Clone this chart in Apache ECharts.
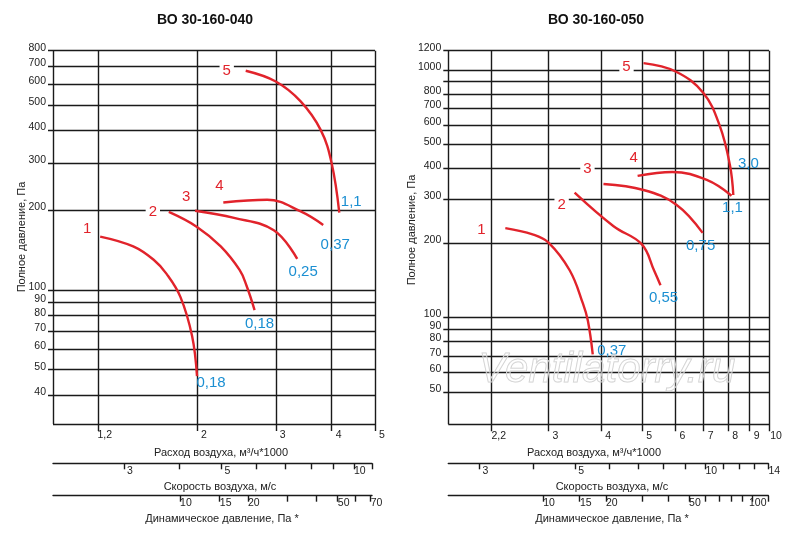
<!DOCTYPE html>
<html><head><meta charset="utf-8">
<script src="https://cdn.jsdelivr.net/npm/echarts@6/dist/echarts.min.js"></script>
<style>html,body{margin:0;background:#fff}#c{width:800px;height:542px}</style>
</head><body><div id="c"></div>
<script>
// ---------- data ----------
const L_X_TICKS = [1.2, 2, 3, 4, 5];
const L_X_LABELS = ['1,2', '2', '3', '4', '5'];
const L_Y_LINES = [800, 700, 600, 500, 400, 300, 200, 100, 90, 80, 70, 60, 50, 40];
const L_Y_LABELS = ['800','700','600','500','400','300','200','100','90','80','70','60','50','40'];
const R_X_TICKS = [2.2, 3, 4, 5, 6, 7, 8, 9, 10];
const R_X_LABELS = ['2,2','3','4','5','6','7','8','9','10'];
const R_Y_LINES = [1200, 1000, 900, 800, 700, 600, 500, 400, 300, 200, 100, 90, 80, 70, 60, 50];
const R_Y_LABELS = ['1200','1000','','800','700','600','500','400','300','200','100','90','80','70','60','50'];

const L_VEL_TICKS = [3, 4, 5, 6, 7, 8, 9, 10, 11];
const L_VEL_LABELS = ['3', '', '5', '', '', '', '', '10', ''];
const L_DYN_TICKS = [5, 10, 15, 20, 30, 40, 50, 60, 70];
const L_DYN_LABELS = ['5', '10', '15', '20', '', '', '50', '', '70'];
const L_DYN_HASTICK = [false, true, true, true, true, true, true, true, true];
const R_VEL_TICKS = [3, 4, 5, 6, 7, 8, 9, 10, 11, 12, 13, 14];
const R_VEL_LABELS = ['3', '', '5', '', '', '', '', '10', '', '', '', '14'];
const R_DYN_TICKS = [5, 10, 15, 20, 30, 40, 50, 60, 70, 80, 90, 100, 120];
const R_DYN_LABELS = ['5', '10', '15', '20', '', '', '50', '', '', '', '', '100', ''];
const R_DYN_HASTICK = [false, true, true, true, true, true, true, true, true, true, true, true, true];

const L_CURVES = [
  [[1.215,159],[1.44,146],[1.6,130],[1.71,115],[1.837,94],[1.95,67],[2.0,47.3]],
  [[1.73,197],[2.0,173],[2.26,146],[2.49,119],[2.58,104],[2.69,84]],
  [[1.98,199],[2.42,187],[2.97,168],[3.35,131]],
  [[2.29,214],[2.87,219],[3.41,198],[3.83,176]],
  [[2.57,672],[3.0,612],[3.41,515],[3.78,402],[4.0,301],[4.16,196]]
];
const L_NAMES = ['1','2','3','4','5'];
const L_POWER = ['0,18','0,18','0,25','0,37','1,1'];
const R_CURVES = [
  [[2.37,230],[2.75,217],[3.0,201],[3.37,155],[3.62,114],[3.72,97],[3.82,71]],
  [[3.46,320],[4.28,234],[4.99,198],[5.34,155],[5.53,135]],
  [[4.05,347],[5.04,328],[6.03,286],[6.96,220]],
  [[4.88,374],[5.9,388],[7.12,360],[8.15,311]],
  [[5.04,1069],[5.99,991],[6.98,811],[7.64,597],[8.08,413],[8.23,313]]
];
const R_NAMES = ['1','2','3','4','5'];
const R_POWER = ['0,37','0,55','0,75','1,1','3,0'];

// ---------- layout / style ----------
const RED = '#e1232b', BLUE = '#1b8fd2', INK = '#1a1a1a';
const FONT = 'Liberation Sans';
const L_START_OFF = [[-13,-8],[-16,0],[-9,-14],[-4,-17],[-19,0]];
const L_END_OFF = [[14,7],[5,14],[6,13],[12,20],[12,-11]];
const R_START_OFF = [[-24,2],[-13,12],[-16,-15],[-4,-18],[-17,4]];
const R_END_OFF = [[19,-3],[3,13],[-2,13],[1,12],[15,-31]];

const panels = [
  {grid:{left:53, top:50.7, width:322, height:373.3}, x:[0.953,5], y:[31.2,800],
   xt:L_X_TICKS, xl:L_X_LABELS, yl:L_Y_LINES, ylab:L_Y_LABELS, curves:L_CURVES,
   names:L_NAMES, power:L_POWER, so:L_START_OFF, eo:L_END_OFF,
   vel:{ticks:L_VEL_TICKS, labels:L_VEL_LABELS, range:[2.07,11], width:319},
   dyn:{ticks:L_DYN_TICKS, labels:L_DYN_LABELS, has:L_DYN_HASTICK, range:[2.74,71], width:319}},
  {grid:{left:448.3, top:50.7, width:320.7, height:373.6}, x:[1.736,10], y:[37,1200],
   xt:R_X_TICKS, xl:R_X_LABELS, yl:R_Y_LINES, ylab:R_Y_LABELS, curves:R_CURVES,
   names:R_NAMES, power:R_POWER, so:R_START_OFF, eo:R_END_OFF,
   vel:{ticks:R_VEL_TICKS, labels:R_VEL_LABELS, range:[2.54,14], width:320},
   dyn:{ticks:R_DYN_TICKS, labels:R_DYN_LABELS, has:R_DYN_HASTICK, range:[3.52,120], width:320}}
];

const grids = [], xAxes = [], yAxes = [], series = [];
const hidden = {show:false};
const EXT_L = 6, EXT_B = 8, EXT_R = 2, EXT_T = 2;

panels.forEach((p, pi) => {
  const gi = grids.length;
  const g = p.grid;
  grids.push({left:g.left-EXT_L, top:g.top-EXT_T, width:g.width+EXT_L+EXT_R, height:g.height+EXT_T+EXT_B});
  const xdec = Math.log10(p.x[1]/p.x[0]) / g.width;
  const ydec = Math.log10(p.y[1]/p.y[0]) / g.height;
  const xmin = p.x[0]/Math.pow(10, EXT_L*xdec), xmax = p.x[1]*Math.pow(10, EXT_R*xdec);
  const ymin = p.y[0]/Math.pow(10, EXT_B*ydec), ymax = p.y[1]*Math.pow(10, EXT_T*ydec);
  xAxes.push({type:'log', gridIndex:gi, min:xmin, max:xmax, show:false});
  yAxes.push({type:'log', gridIndex:gi, min:ymin, max:ymax, show:false});
  const xLeft = p.x[0] / Math.pow(10, 5*xdec);
  const yBelow = p.y[0] / Math.pow(10, 7*ydec);
  const ml = [];
  ml.push([{coord:[p.x[0], p.y[1]]}, {coord:[p.x[0], p.y[0]]}]);
  ml.push([{coord:[p.x[0], p.y[0]]}, {coord:[p.x[1], p.y[0]]}]);
  p.yl.forEach((v, i) => {
    const lab = {show: p.ylab[i] !== '', formatter: p.ylab[i], position:'start', distance:2,
      color:'#222', fontSize:10.5, fontFamily:FONT, offset:[0,-3]};
    ml.push([{coord:[xLeft, v], label:lab}, {coord:[p.x[1], v], label:lab}]);
  });
  p.xt.forEach((v, i) => {
    const lab = {show:true, formatter:p.xl[i], position:'end', distance:0, color:'#222',
      fontSize:10.5, fontFamily:FONT, offset:[7,-1]};
    ml.push([{coord:[v, p.y[1]], label:lab}, {coord:[v, yBelow], label:lab}]);
  });
  series.push({type:'line', xAxisIndex:gi, yAxisIndex:gi, data:[[p.x[1], p.y[1]]], showSymbol:false, clip:false,
    lineStyle:{opacity:0}, z:1, silent:true,
    markLine:{silent:true, symbol:['none','none'], animation:false, precision:6,
      label:{show:false},
      lineStyle:{color:INK, width:1.4, type:'solid'}, emphasis:{disabled:true}, data:ml}});
  p.curves.forEach((c, ci) => {
    const data = c.map((pt, k) => {
      const item = {value: pt};
      if (k === 0) item.label = {show:true, formatter:p.names[ci], position:'inside', offset:p.so[ci],
        color:RED, fontSize:15, fontFamily:FONT, backgroundColor:'#fff', padding:[1,3]};
      else if (k === c.length-1) item.label = {show:true, formatter:p.power[ci], position:'inside', offset:p.eo[ci],
        color:BLUE, fontSize:15, fontFamily:FONT};
      return item;
    });
    series.push({type:'line', xAxisIndex:gi, yAxisIndex:gi, data, smooth:0.4, clip:false,
      symbol:'circle', symbolSize:1, showSymbol:true, itemStyle:{color:'rgba(0,0,0,0)'},
      lineStyle:{color:RED, width:2.4}, z:5, label:{show:false}, silent:true, animation:false});
  });
  [['vel', 463.3], ['dyn', 495.7]].forEach(([key, top]) => {
    const s = p[key];
    const g2 = grids.length;
    grids.push({left:p.grid.left, top:top, width:s.width, height:6});
    xAxes.push({type:'log', gridIndex:g2, min:s.range[0], max:s.range[1], position:'top',
      axisLabel:hidden, axisTick:hidden, splitLine:hidden, axisLine:{show:true, onZero:false, lineStyle:{color:INK, width:1.4}}});
    yAxes.push({type:'value', gridIndex:g2, min:0, max:1, show:false});
    const tl = s.ticks.map((v, i) => {
      const lab = {show: s.labels[i] !== '', formatter:s.labels[i], position:'end', distance:0,
        color:'#222', fontSize:10.5, fontFamily:FONT, offset:[6,-4]};
      const ls = (s.has && !s.has[i]) ? {opacity:0} : {};
      return [{coord:[v,1], label:lab, lineStyle:ls}, {coord:[v,0], label:lab, lineStyle:ls}];
    });
    series.push({type:'line', xAxisIndex:g2, yAxisIndex:g2, data:[[s.range[1],1]], showSymbol:false, clip:false,
      lineStyle:{opacity:0}, silent:true,
      markLine:{silent:true, symbol:['none','none'], animation:false, precision:6,
        lineStyle:{color:INK, width:1.4, type:'solid'}, data:tl}});
  });
});

const txt = (x, y, t, extra) => Object.assign({type:'text', x, y,
  style:Object.assign({text:t, fill:'#222', font:'11px "Liberation Sans"', textAlign:'center', textVerticalAlign:'middle'}, extra||{})});
const graphic = [
  txt(205, 20, 'ВО 30-160-040', {font:'bold 14px "Liberation Sans"', fill:'#111'}),
  txt(596, 20, 'ВО 30-160-050', {font:'bold 14px "Liberation Sans"', fill:'#111'}),
  {type:'text', x:22, y:237, rotation:Math.PI/2, style:{text:'Полное давление, Па', fill:'#222', font:'11px "Liberation Sans"', textAlign:'center', textVerticalAlign:'middle'}},
  {type:'text', x:412, y:230, rotation:Math.PI/2, style:{text:'Полное давление, Па', fill:'#222', font:'11px "Liberation Sans"', textAlign:'center', textVerticalAlign:'middle'}},
  txt(221, 453, 'Расход воздуха, м³/ч*1000'),
  txt(220, 487, 'Скорость воздуха, м/с'),
  txt(222, 519, 'Динамическое давление, Па *'),
  txt(594, 453, 'Расход воздуха, м³/ч*1000'),
  txt(612, 487, 'Скорость воздуха, м/с'),
  txt(612, 519, 'Динамическое давление, Па *'),
  {type:'text', x:607, y:370, z:100, style:{text:'Ventilatorry.ru', fill:'rgba(255,255,255,0.25)', stroke:'#cfcfcf', lineWidth:1,
    font:'italic 42px "Liberation Sans"', textAlign:'center', textVerticalAlign:'middle'}}
];

const chart = echarts.init(document.getElementById('c'), null, {renderer:'canvas'});
chart.setOption({animation:false, backgroundColor:'#fff', grid:grids, xAxis:xAxes, yAxis:yAxes, series, graphic});
</script></body></html>
